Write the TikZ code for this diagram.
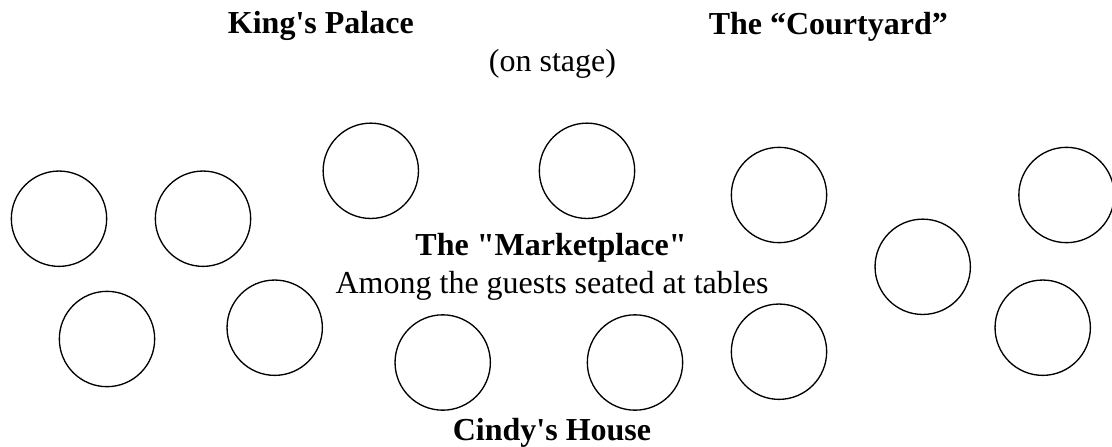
\documentclass[tikz,border=0pt]{standalone}
\usepackage{fontspec}
\setmainfont{Liberation Serif}
\usepackage{tikz}

\begin{document}
\begin{tikzpicture}[x=0.75pt,y=-0.75pt,
  seat/.style={circle,draw,line width=1pt,minimum size=71.5pt,inner sep=0pt},
  place/.style={anchor=base,inner sep=0pt,font=\fontsize{24}{28}\selectfont\bfseries},
  note/.style={anchor=base,inner sep=0pt,font=\fontsize{24}{28}\selectfont}]
%%Frame
\useasboundingbox (0,0) rectangle (1112,446);
%%Stage
\node[place] (palace) at (320.8,33.5) {King\textquotesingle s Palace};
\node[place] (courtyard) at (828.3,34) {The “Courtyard”};
\node[note] (stage) at (552.5,71.5) {(on stage)};
%%Tables
\node[seat] (t1) at (59,218.7) {};
\node[seat] (t2) at (203,218.7) {};
\node[seat] (t3) at (370.8,170.8) {};
\node[seat] (t4) at (587,170.8) {};
\node[seat] (t5) at (779,195) {};
\node[seat] (t6) at (1066.5,195) {};
\node[seat] (t7) at (922.7,266.8) {};
\node[seat] (t8) at (107,339) {};
\node[seat] (t9) at (274.7,327.7) {};
\node[seat] (t10) at (442.7,362.5) {};
\node[seat] (t11) at (635,362.5) {};
\node[seat] (t12) at (779,351.7) {};
\node[seat] (t13) at (1042.7,327.7) {};
%%Market
\node[place] (market) at (551,255) {The \textquotedbl Marketplace\textquotedbl};
\node[note] (guests) at (552,293) {Among the guests seated at tables};
%%House
\node[place] (house) at (552,440.5) {Cindy\textquotesingle s House};
\end{tikzpicture}
\end{document}
